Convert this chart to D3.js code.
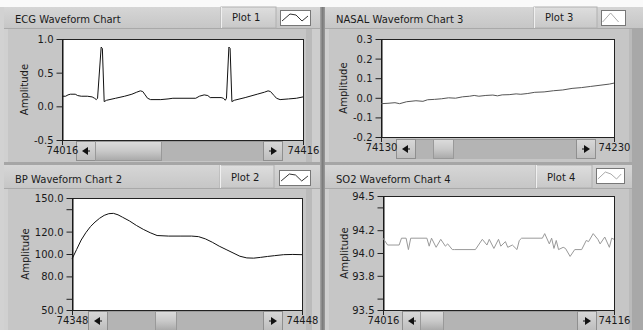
<!DOCTYPE html>
<html><head><meta charset="utf-8">
<script src="https://cdn.jsdelivr.net/npm/d3@7"></script>
<style>
body{margin:0;background:#fff}
svg{display:block}
text{font-family:"DejaVu Sans",Verdana,sans-serif;font-size:10px;fill:#1a1a1a}
</style>
</head><body>
<svg id="c" width="643" height="330"></svg>
<script>
// ---------------- DATA ----------------
const chartTitles = ["ECG Waveform Chart", "BP Waveform Chart 2", "NASAL Waveform Chart 3", "SO2 Waveform Chart 4"];
const plotNames = ["Plot 1", "Plot 2", "Plot 3", "Plot 4"];
const yAxisTitle = "Amplitude";

const ecgTime = [74016,74022,74026,74030,74038,74042,74048,74058,74066,74070,74073,74075,74081,74083,74086,74090,74105,74120,74132,74140,74146,74150,74154,74158,74163,74180,74192,74200,74238,74244,74252,74258,74262,74280,74284,74287,74289,74293,74295,74298,74302,74320,74340,74352,74358,74362,74368,74372,74378,74392,74405,74416];
const ecgAmp  = [0.15,0.15,0.17,0.18,0.18,0.16,0.15,0.15,0.14,0.12,0.10,0.12,0.88,0.86,0.07,0.09,0.12,0.15,0.18,0.21,0.23,0.22,0.17,0.12,0.10,0.10,0.11,0.12,0.12,0.15,0.17,0.16,0.13,0.13,0.12,0.09,0.12,0.88,0.86,0.07,0.09,0.13,0.18,0.21,0.23,0.22,0.16,0.12,0.10,0.11,0.12,0.14];
const ecgYTicks = [-0.5, 0.0, 0.5, 1.0];
const ecgYLabels = ["-0.5", "0.0", "0.5", "1.0"];
const ecgXLabels = [74016, 74416];

const bpTime = [74348,74350,74352,74354,74356,74358,74360,74362,74364,74366,74368,74370,74373,74376,74379,74382,74385,74390,74395,74400,74403,74406,74409,74412,74415,74418,74421,74424,74427,74430,74433,74436,74440,74444,74448];
const bpAmp  = [95.5,104,112.5,119,124.4,128.5,131.9,134.5,136,136.3,135,132.8,129.5,125.5,122,119,116.5,116,116,116,115.5,113.5,110.5,107,104,101,98,96.5,96.3,97,97.8,98.5,99.4,99.6,99.4];
const bpYTicks = [50, 60, 80, 100, 120, 140, 150];
const bpYLabels = ["50.0", "", "80.0", "100.0", "120.0", "", "150.0"];
const bpXLabels = [74348, 74448];

const nasalTime = [74130,74133,74136,74138,74141,74145,74148,74150,74153,74156,74159,74162,74165,74168,74170,74172,74175,74178,74180,74182,74185,74188,74190,74193,74196,74200,74204,74208,74212,74216,74220,74224,74228,74230];
const nasalAmp  = [-0.030,-0.028,-0.025,-0.030,-0.020,-0.015,-0.018,-0.010,-0.008,-0.005,0.000,-0.002,0.005,0.008,0.012,0.008,0.012,0.014,0.010,0.015,0.016,0.020,0.018,0.022,0.028,0.030,0.036,0.040,0.048,0.052,0.058,0.064,0.070,0.075];
const nasalYTicks = [-0.2, -0.1, 0.0, 0.1, 0.2, 0.3];
const nasalYLabels = ["-0.2", "-0.1", "0.0", "0.1", "0.2", "0.3"];
const nasalXLabels = [74130, 74230];

const so2Time = [74016,74018,74023,74024,74026,74027,74028,74035,74036,74037,74039,74041,74043,74044,74046,74047,74056,74059,74061,74062,74064,74066,74067,74069,74070,74072,74074,74075,74076,74084,74085,74086,74088,74089,74090,74091,74092,74094,74095,74097,74099,74102,74104,74105,74107,74109,74110,74112,74114,74115,74116];
const so2Amp  = [94.13,94.07,94.07,94.13,94.13,94.03,94.13,94.13,94.06,94.13,94.05,94.12,94.06,94.08,94.03,94.03,94.03,94.12,94.07,94.12,94.04,94.12,94.06,94.10,94.05,94.07,94.03,94.11,94.13,94.13,94.13,94.17,94.08,94.13,94.04,94.11,94.03,94.05,94.04,93.97,94.03,94.03,94.11,94.10,94.17,94.12,94.08,94.14,94.05,94.13,94.12];
const so2YTicks = [93.5, 93.6, 93.8, 94.0, 94.2, 94.4, 94.5];
const so2YLabels = ["93.5", "", "93.8", "94.0", "94.2", "", "94.5"];
const so2XLabels = [74016, 74116];

// ---------------- LAYOUT ----------------
const panels = [
  {px:4, py:7, pw:316, ph:155, tb:21, title:chartTitles[0], name:plotNames[0],
   btn:[221,276], leg:[280,310,10,25],
   plot:{l:62,t:39,r:303,b:140}, sb:{y:141,h:20,lb:76,th0:95,th1:161,rb:263},
   ampX:24, time:ecgTime, amp:ecgAmp, yt:ecgYTicks, yl:ecgYLabels, xl:ecgXLabels,
   color:"#111", legColor:"#333", legPts:[[2,11],[10,4],[16,5],[22,11],[28,6]]},
  {px:4, py:165, pw:316, ph:165, tb:23, title:chartTitles[1], name:plotNames[1],
   btn:[220,274], leg:[279,310,170,185],
   plot:{l:72,t:198,r:302,b:310}, sb:{y:311,h:20,lb:88,th0:155,th1:176,rb:263},
   ampX:25, time:bpTime, amp:bpAmp, yt:bpYTicks, yl:bpYLabels, xl:bpXLabels,
   color:"#111", legColor:"#333", legPts:[[2,11],[10,4],[16,5],[22,11],[28,6]]},
  {px:325, py:7, pw:318, ph:155, tb:21, title:chartTitles[2], name:plotNames[2],
   btn:[534,597], leg:[601,625,10,25],
   plot:{l:381,t:39,r:614,b:137}, sb:{y:139,h:20,lb:396,th0:433,th1:453,rb:576},
   ampX:343, time:nasalTime, amp:nasalAmp, yt:nasalYTicks, yl:nasalYLabels, xl:nasalXLabels,
   color:"#555", legColor:"#aaa", legPts:[[2,12],[12,3],[22,12]]},
  {px:325, py:165, pw:318, ph:165, tb:23, title:chartTitles[3], name:plotNames[3],
   btn:[536,592], leg:[596,624,168,183],
   plot:{l:383,t:196,r:614,b:310}, sb:{y:311,h:20,lb:402,th0:420,th1:443,rb:577},
   ampX:344, time:so2Time, amp:so2Amp, yt:so2YTicks, yl:so2YLabels, xl:so2XLabels,
   color:"#999", legColor:"#aaa", legPts:[[2,11],[10,4],[16,6],[22,11],[27,6]]}
];

const svg = d3.select("#c");
const defs = svg.append("defs");
function grad(id, stops){
  const g = defs.append("linearGradient").attr("id", id).attr("x1",0).attr("y1",0).attr("x2",0).attr("y2",1);
  stops.forEach(s => g.append("stop").attr("offset", s[0]).attr("stop-color", s[1]));
}
grad("gTitle", [[0,"#d6d6d6"],[1,"#c6c6c6"]]);
grad("gBtn", [[0,"#dedede"],[1,"#c8c8c8"]]);
grad("gThumb", [[0,"#dcdcdc"],[0.5,"#c9c9c9"],[1,"#a9a9a9"]]);
grad("gSbBtn", [[0,"#d8d8d8"],[1,"#bdbdbd"]]);
const gv = defs.append("linearGradient").attr("id","gDiv").attr("x1",0).attr("x2",1).attr("y1",0).attr("y2",0);
[[0,"#a8a8a8"],[0.5,"#7c7c7c"],[1,"#9a9a9a"]].forEach(s=>gv.append("stop").attr("offset",s[0]).attr("stop-color",s[1]));

// background
svg.append("rect").attr("width",643).attr("height",330).attr("fill","#c4c4c4");
svg.append("rect").attr("width",643).attr("height",7).attr("fill","#fafafa");
svg.append("rect").attr("x",0).attr("y",7).attr("width",4).attr("height",323).attr("fill","#d2d2d2");

panels.forEach(p => {
  const g = svg.append("g");
  // body
  g.append("rect").attr("x",p.px).attr("y",p.py).attr("width",p.pw).attr("height",p.ph).attr("fill","#c6c6c6");
  g.append("rect").attr("x",p.px).attr("y",p.py+p.tb).attr("width",4).attr("height",p.ph-p.tb).attr("fill","#d0d0d0");
  g.append("rect").attr("x",p.px+p.pw-14).attr("y",p.py+p.tb).attr("width",6).attr("height",p.ph-p.tb).attr("fill","#bababa");
  g.append("rect").attr("x",p.px+p.pw-8).attr("y",p.py+p.tb).attr("width",8).attr("height",p.ph-p.tb).attr("fill","#cdcdcd");
  // title bar
  g.append("rect").attr("x",p.px).attr("y",p.py).attr("width",p.pw).attr("height",p.tb).attr("fill","url(#gTitle)");
  g.append("line").attr("x1",p.px).attr("x2",p.px+p.pw).attr("y1",p.py+p.tb+0.5).attr("y2",p.py+p.tb+0.5).attr("stroke","#a9a9a9");
  g.append("text").attr("x",p.px+11).attr("y",p.py+p.tb-5).text(p.title);
  // plot name button
  g.append("rect").attr("x",p.btn[0]).attr("y",p.py).attr("width",p.btn[1]-p.btn[0]).attr("height",p.tb)
    .attr("fill","url(#gBtn)").attr("stroke","#b0b0b0");
  g.append("line").attr("x1",p.btn[0]+0.5).attr("x2",p.btn[0]+0.5).attr("y1",p.py).attr("y2",p.py+p.tb).attr("stroke","#f0f0f0");
  g.append("text").attr("x",p.btn[0]+11).attr("y",p.py+p.tb-7).text(p.name);
  // legend swatch
  const lw = p.leg[1]-p.leg[0], lh = p.leg[3]-p.leg[2];
  g.append("rect").attr("x",p.leg[0]+0.5).attr("y",p.leg[2]+0.5).attr("width",lw).attr("height",lh)
    .attr("fill","#fff").attr("stroke","#777");
  g.append("path").attr("d", d3.line()(p.legPts.map(q=>[p.leg[0]+q[0]*lw/30, p.leg[2]+q[1]])))
    .attr("fill","none").attr("stroke",p.legColor).attr("stroke-width",1);

  // scales
  const x = d3.scaleLinear().domain([p.xl[0], p.xl[1]]).range([p.plot.l, p.plot.r]);
  const y = d3.scaleLinear().domain([p.yt[0], p.yt[p.yt.length-1]]).range([p.plot.b, p.plot.t]);

  // plot area
  g.append("rect").attr("x",p.plot.l+0.5).attr("y",p.plot.t+0.5).attr("width",p.plot.r-p.plot.l).attr("height",p.plot.b-p.plot.t)
    .attr("fill","#fff").attr("stroke","#222");

  // scrollbar
  const sb = p.sb;
  g.append("rect").attr("x",sb.lb).attr("y",sb.y).attr("width",sb.rb+20-sb.lb).attr("height",sb.h).attr("fill","#b4b4b4");
  g.append("line").attr("x1",sb.lb).attr("x2",sb.rb+20).attr("y1",sb.y+0.5).attr("y2",sb.y+0.5).attr("stroke","#9a9a9a");
  [[sb.lb,-1],[sb.rb,1]].forEach(([bx,dir])=>{
    g.append("rect").attr("x",bx+0.5).attr("y",sb.y+0.5).attr("width",19).attr("height",sb.h-1)
      .attr("fill","url(#gSbBtn)").attr("stroke","#8f8f8f");
    const cx = bx+10, cy = sb.y+sb.h/2;
    const tri = dir<0 ? [[cx-4,cy],[cx+2,cy-4],[cx+2,cy+4]] : [[cx+4,cy],[cx-2,cy-4],[cx-2,cy+4]];
    g.append("path").attr("d", d3.line()(tri)+"Z").attr("fill","#111");
    g.append("line").attr("x1", dir<0?cx+2:cx-2).attr("x2", dir<0?cx+4:cx-4).attr("y1",cy).attr("y2",cy).attr("stroke","#111");
  });
  g.append("rect").attr("x",sb.th0+0.5).attr("y",sb.y+0.5).attr("width",sb.th1-sb.th0).attr("height",sb.h-1)
    .attr("fill","url(#gThumb)").attr("stroke","#999");

  // axes
  const ya = d3.axisLeft(y).tickValues(p.yt).tickFormat((d,i)=>p.yl[i]).tickSize(6).tickSizeOuter(0).tickPadding(3);
  const gy = g.append("g").attr("transform",`translate(${p.plot.l+0.5},0)`).call(ya);
  gy.selectAll("path.domain").attr("stroke","#111");
  gy.selectAll(".tick line").attr("stroke","#222");
  gy.selectAll("text").attr("font-family",null).attr("font-size",null).attr("fill",null).attr("dy","0.35em");

  const xa = d3.axisBottom(x).tickValues(p.xl).tickFormat(d3.format("d")).tickSize(4).tickSizeOuter(0).tickPadding(2);
  const gx = g.append("g").attr("transform",`translate(0,${p.plot.b+1})`).call(xa);
  gx.select("path.domain").remove();
  gx.selectAll(".tick line").attr("stroke","#222");
  gx.selectAll("text").attr("font-family",null).attr("font-size",null).attr("fill",null);

  // y title
  g.append("text").attr("transform",`translate(${p.ampX},${(p.plot.t+p.plot.b)/2}) rotate(-90)`)
    .attr("text-anchor","middle").attr("dy","0.35em").text(yAxisTitle);

  // trace
  const pts = p.time.map((t,i)=>[t,p.amp[i]]);
  g.append("path").datum(pts)
    .attr("d", d3.line().x(d=>x(d[0])).y(d=>y(d[1])))
    .attr("fill","none").attr("stroke",p.color).attr("stroke-width",1);
});

// dividers
svg.append("rect").attr("x",320).attr("y",7).attr("width",5).attr("height",323).attr("fill","url(#gDiv)");
svg.append("rect").attr("x",4).attr("y",162).attr("width",316).attr("height",3).attr("fill","#a6a6a6");
svg.append("rect").attr("x",325).attr("y",162).attr("width",318).attr("height",3).attr("fill","#a6a6a6");
svg.append("rect").attr("x",632).attr("y",28).attr("width",11).attr("height",302).attr("fill","#a8a8a8");
</script>
</body></html>
